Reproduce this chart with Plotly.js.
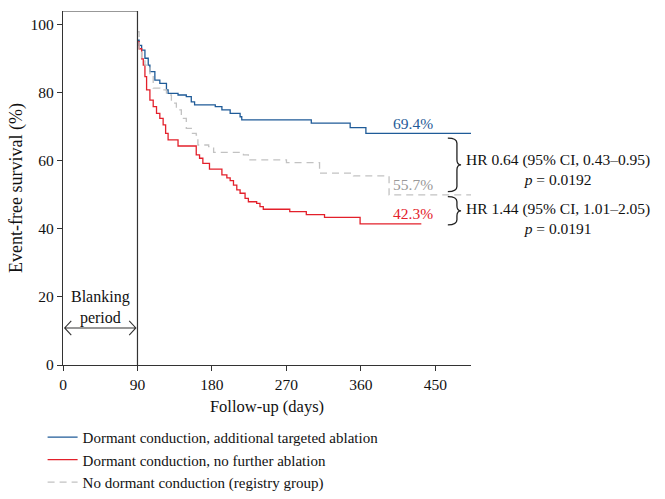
<!DOCTYPE html>
<html>
<head>
<meta charset="utf-8">
<script src="https://cdn.plot.ly/plotly-3.0.1.min.js"></script>
<style>
  html, body { margin: 0; padding: 0; background: #fff; }
  #chart { width: 665px; height: 499px; }
</style>
</head>
<body>
<div id="chart"></div>
<script>
// ---- data ----
const seriesNames = [
  "Dormant conduction, additional targeted ablation",
  "Dormant conduction, no further ablation",
  "No dormant conduction (registry group)"
];
const blueDays = [90, 92, 95, 99, 103, 105, 111, 117, 125, 127, 139, 149, 155, 159, 184, 192, 202, 214, 216, 300, 347, 366, 493];
const blueSurv = [95.5, 94, 92.6, 90.2, 88.2, 86.3, 83.8, 82.8, 80.9, 79.9, 79.4, 78.9, 77.4, 76.5, 76.0, 75.0, 74.0, 73.0, 72.1, 71.1, 69.8, 68.1, 68.1];

const redDays = [90, 92, 95, 97, 99, 101, 105, 109, 113, 117, 121, 124, 127, 139, 161, 165, 169, 177, 192, 198, 202, 206, 210, 214, 220, 224, 234, 238, 242, 274, 294, 316, 359, 433];
const redSurv = [95, 93, 90, 88.2, 84.8, 80.9, 77.9, 76, 74, 72.5, 70.6, 68.1, 66.2, 64.4, 61.8, 60.8, 59.3, 57.6, 55.9, 55.0, 54.2, 52.9, 51.5, 50.5, 49.0, 48.0, 47.5, 46.6, 45.8, 45.1, 44.2, 43.4, 41.5, 41.5];

const grayDays = [90, 92, 95, 99, 105, 109, 117, 125, 131, 137, 143, 149, 155, 161, 163, 176, 182, 218, 224, 270, 310, 351, 394, 493];
const graySurv = [98, 93, 90, 88.2, 84.8, 81.4, 80.9, 79.4, 77, 75, 72.5, 69.6, 68.1, 67.6, 64.7, 64.2, 62.5, 61.8, 60.3, 59.5, 56.4, 55.6, 50.0, 50.0];

const xTicks = [0, 90, 180, 270, 360, 450];
const yTicks = [0, 20, 40, 60, 80, 100];
const endLabels = ["69.4%", "55.7%", "42.3%"];
const hrTexts = ["HR 0.64 (95% CI, 0.43–0.95)<br><i>p</i> = 0.0192",
                 "HR 1.44 (95% CI, 1.01–2.05)<br><i>p</i> = 0.0191"];
const blankingDays = 90;

// ---- styles ----
const FONT = "Liberation Serif, Times New Roman, serif";
const BLUE = "#1f5b98", RED = "#e3202b", GRAY = "#c2c2c2";
const AX = "#333333";

const traces = [
  {x: blueDays, y: blueSurv, name: seriesNames[0], mode: "lines",
   line: {color: BLUE, width: 1.3, shape: "hv"}},
  {x: redDays, y: redSurv, name: seriesNames[1], mode: "lines",
   line: {color: RED, width: 1.3, shape: "hv"}},
  {x: grayDays, y: graySurv, name: seriesNames[2], mode: "lines",
   line: {color: GRAY, width: 1.3, shape: "hv", dash: "7px,5px"}}
];

function bracket(x0, x1, x2, top, bot, r) {
  const mid = (top + bot) / 2;
  return `M ${x0},${top} Q ${x1},${top} ${x1},${top - r} L ${x1},${mid + r} Q ${x1},${mid} ${x2},${mid} ` +
         `Q ${x1},${mid} ${x1},${mid - r} L ${x1},${bot + r} Q ${x1},${bot} ${x0},${bot}`;
}

const yTop = 104.1;
const shapes = [
  {type: "line", xref: "x", yref: "y", x0: 0, x1: blankingDays, y0: yTop, y1: yTop, line: {color: AX, width: 1.2}},
  {type: "line", xref: "x", yref: "y", x0: blankingDays, x1: blankingDays, y0: 0, y1: yTop, line: {color: AX, width: 1.2}},
  {type: "path", xref: "x", yref: "y",
   path: `M 2,10.9 L 88,10.9 M 10,13.0 L 2,10.9 L 10,8.8 M 80,13.0 L 88,10.9 L 80,8.8`,
   line: {color: AX, width: 1.1}},
  {type: "path", xref: "x", yref: "y", path: bracket(465, 476, 481, 66.7, 51.0, 1.5), line: {color: "#222", width: 1.3}},
  {type: "path", xref: "x", yref: "y", path: bracket(465, 476, 481, 49.5, 41.2, 1.5), line: {color: "#222", width: 1.3}}
];

const annotations = [
  {x: 423, y: 71.1, xref: "x", yref: "y", text: endLabels[0], showarrow: false, xanchor: "center", font: {family: FONT, size: 15.5, color: BLUE}},
  {x: 423, y: 53.2, xref: "x", yref: "y", text: endLabels[1], showarrow: false, xanchor: "center", font: {family: FONT, size: 15.5, color: "#999999"}},
  {x: 423, y: 44.6, xref: "x", yref: "y", text: endLabels[2], showarrow: false, xanchor: "center", font: {family: FONT, size: 15.5, color: RED}},
  {x: 1.213, y: 57.5, xref: "paper", yref: "y", text: hrTexts[0], showarrow: false, xanchor: "center", yanchor: "middle", align: "center", font: {family: FONT, size: 15.5, color: "#111"}},
  {x: 1.213, y: 43.1, xref: "paper", yref: "y", text: hrTexts[1], showarrow: false, xanchor: "center", yanchor: "middle", align: "center", font: {family: FONT, size: 15.5, color: "#111"}},
  {x: 45, y: 16.8, xref: "x", yref: "y", text: "Blanking<br>period", showarrow: false, xanchor: "center", align: "center", font: {family: FONT, size: 16, color: "#111"}}
];

const layout = {
  width: 665, height: 499,
  margin: {l: 63, r: 194, t: 11, b: 134, autoexpand: false},
  paper_bgcolor: "#fff", plot_bgcolor: "#fff",
  font: {family: FONT, size: 15.5, color: "#111"},
  showlegend: true,
  legend: {x: -0.05, y: -0.158, xanchor: "left", yanchor: "top", orientation: "v",
           font: {family: FONT, size: 15, color: "#111"}, bgcolor: "rgba(0,0,0,0)", tracegroupgap: 0},
  xaxis: {range: [0, 493], tickvals: xTicks, ticktext: xTicks.map(String), ticks: "outside", ticklen: 5,
          tickcolor: AX, showline: true, linecolor: AX, linewidth: 1.2, showgrid: false, zeroline: false,
          title: {text: "Follow-up (days)", font: {family: FONT, size: 16.5}, standoff: 8},
          tickfont: {family: FONT, size: 15.5}},
  yaxis: {range: [0, yTop], tickvals: yTicks, ticktext: yTicks.map(String), ticks: "outside", ticklen: 5,
          tickcolor: AX, showline: true, linecolor: AX, linewidth: 1.2, showgrid: false, zeroline: false,
          title: {text: "Event-free survival (%)", font: {family: FONT, size: 18}, standoff: 3},
          tickfont: {family: FONT, size: 15.5}},
  shapes: shapes,
  annotations: annotations
};

Plotly.newPlot("chart", traces, layout, {displayModeBar: false, staticPlot: true});
</script>
</body>
</html>
